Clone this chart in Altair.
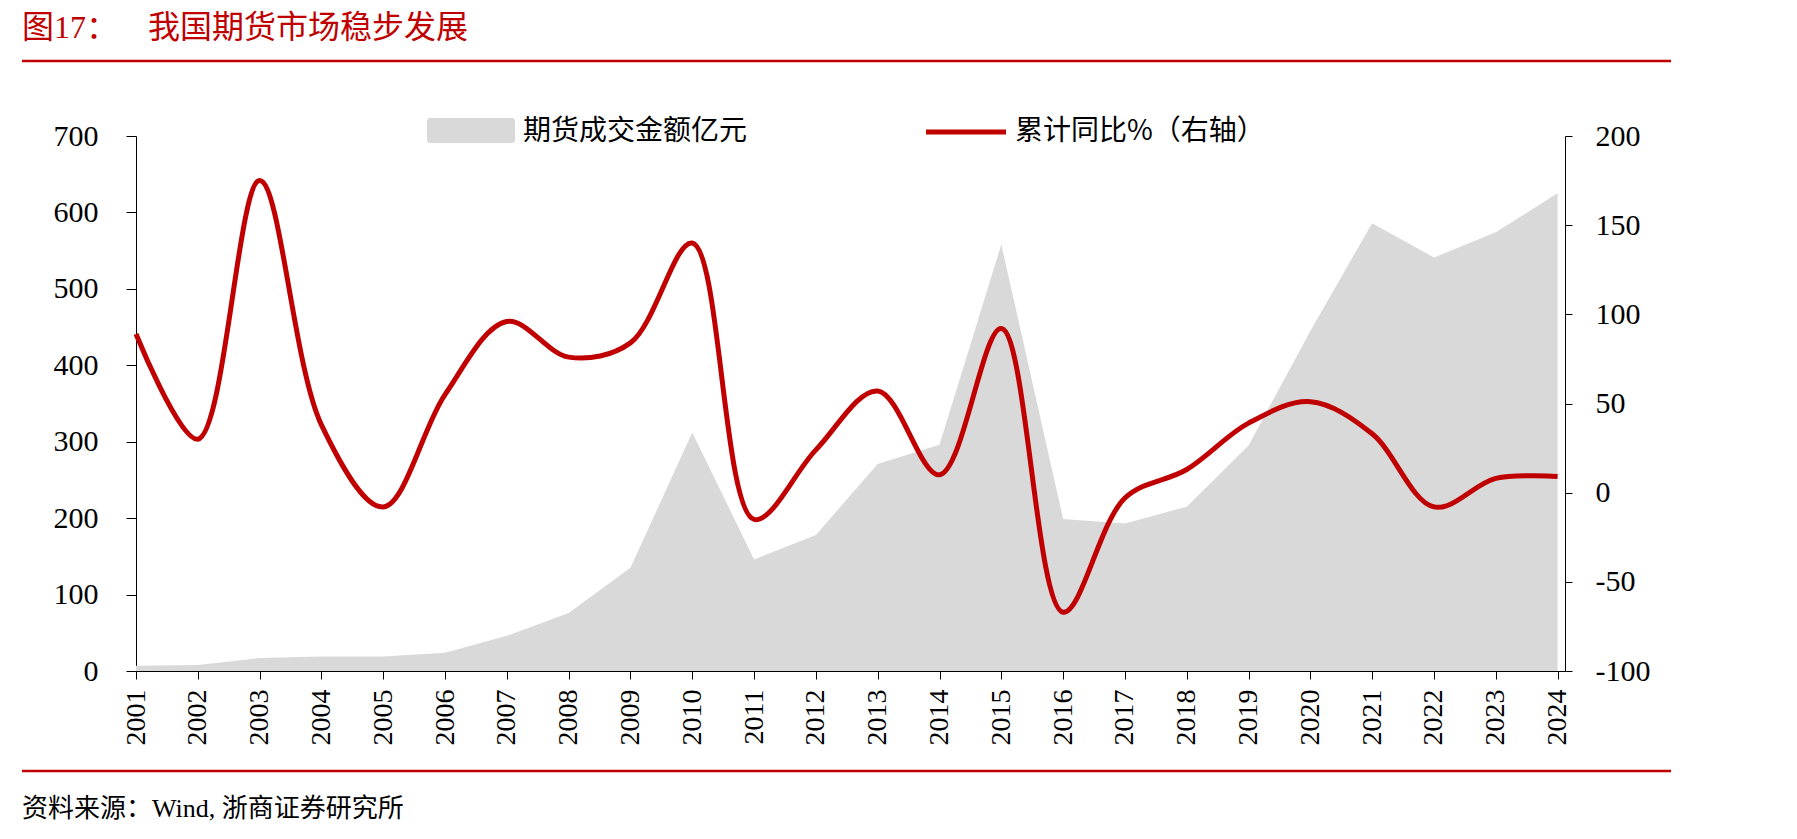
import altair as alt
import pandas as pd

years = list(range(2001, 2025))
amount = [7, 8, 17, 19, 19, 24, 46, 76, 135, 312, 146, 178, 271, 296, 558, 199, 193, 215, 295, 445, 586, 541, 574, 625]
yoy = [89, 30, 175, 38, -8, 55, 96, 76, 84, 140, -15, 24, 57, 10, 92, -67, -3, 13, 39, 51, 33, -8, 8, 9]

title_a = "图17："
title_b = "我国期货市场稳步发展"
legend_a = "期货成交金额亿元"
legend_b = "累计同比%（右轴）"
source = "资料来源：Wind, 浙商证券研究所"

df = pd.DataFrame({"year": years, "amount": amount, "yoy": yoy})

RED = "#C00000"
GRAY = "#D9D9D9"
SERIF = "Liberation Serif, Noto Sans CJK SC"
CJK = "Noto Sans CJK SC"

W, H = 1429, 535
XDOM = [2001, 2024.12]

xenc = alt.X("year:Q", scale=alt.Scale(domain=XDOM, nice=False, zero=False),
             axis=alt.Axis(values=years, format="d", labelAngle=-90, title=None, grid=False,
                           labelPadding=10, tickSize=8, labelFontSize=28, labelFont=SERIF,
                           labelColor="black", domainColor="black", tickColor="black",
                           labelFlush=False, labelOverlap=False))

area = alt.Chart(df).mark_area(color=GRAY, opacity=1, interpolate="linear").encode(
    x=xenc,
    y=alt.Y("amount:Q", scale=alt.Scale(domain=[0, 700], nice=False),
            axis=alt.Axis(values=list(range(0, 701, 100)), title=None, grid=False, orient="left",
                          tickSize=10, labelPadding=28, labelFontSize=30, labelFont=SERIF,
                          labelColor="black", domainColor="black", tickColor="black"))
)

line = alt.Chart(df).mark_line(color=RED, strokeWidth=5, interpolate="catmull-rom").encode(
    x=alt.X("year:Q", scale=alt.Scale(domain=XDOM, nice=False, zero=False)),
    y=alt.Y("yoy:Q", scale=alt.Scale(domain=[-100, 200], nice=False, zero=False),
            axis=alt.Axis(values=list(range(-100, 201, 50)), title=None, grid=False, orient="right",
                          labelExpr="datum.value + ''",
                          tickSize=7, labelPadding=23, labelFontSize=30, labelFont=SERIF,
                          labelColor="black", domainColor="black", tickColor="black"))
)

one = pd.DataFrame({"k": [0]})

def txt(s, x, y, size, color="black", font=SERIF):
    return alt.Chart(one).mark_text(align="left", baseline="middle", fontSize=size,
                                    color=color, font=font).encode(
        x=alt.value(x), y=alt.value(y), text=alt.value(s))

def hrule(x1, x2, y, color, w):
    return alt.Chart(one).mark_rule(color=color, strokeWidth=w).encode(
        x=alt.value(x1), x2=alt.value(x2), y=alt.value(y))

title1 = txt(title_a, -114, -108, 32, RED)
title2 = txt(title_b, 12, -108, 32, RED, CJK)
top_rule = hrule(-114, 1535, -75, RED, 2.5)
bot_rule = hrule(-114, 1535, 635, RED, 2.5)
src = txt(source, -114, 673, 26, "black")

leg_rect = alt.Chart(one).mark_rect(color=GRAY, cornerRadius=3).encode(
    x=alt.value(291), x2=alt.value(379), y=alt.value(-18), y2=alt.value(7))
leg_t1 = txt(legend_a, 387, -4, 28, "black", CJK)
leg_line = hrule(790, 870, -4, RED, 5)
leg_t2 = txt(legend_b, 879, -4, 28, "black", CJK)

chart = alt.layer(area, line, title1, title2, top_rule, bot_rule, src,
                  leg_rect, leg_t1, leg_line, leg_t2).resolve_scale(y="independent").properties(
    width=W, height=H, autosize="none",
    padding={"left": 136, "top": 136, "right": 1797 - 136 - W, "bottom": 839 - 136 - H},
    background="white"
).configure_view(strokeWidth=0)

chart.save("out.html", embed_options={"renderer": "svg", "actions": False})
